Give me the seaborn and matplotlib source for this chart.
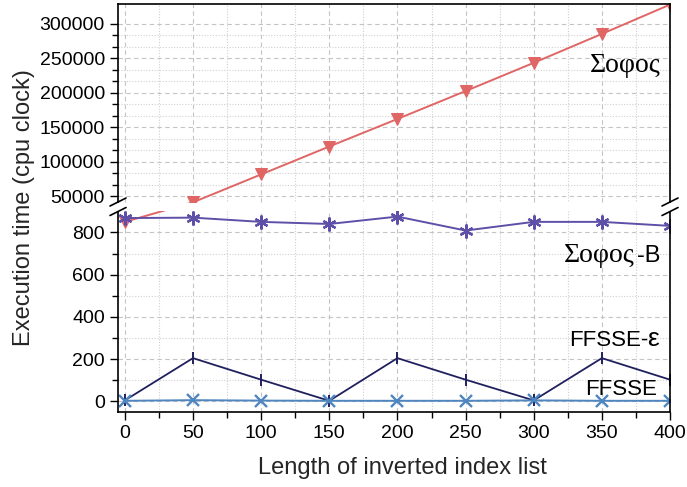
import numpy as np
import matplotlib
matplotlib.use("Agg")
import matplotlib.pyplot as plt
import seaborn as sns

# Data
x_len = [0, 50, 100, 150, 200, 250, 300, 350, 400]
sofos = [850, 41000, 81500, 122000, 162000, 202500, 243500, 285500, 328000]
sofos_b = [868, 870, 850, 840, 875, 809, 850, 850, 831]
ffsse_eps = [5, 205, 103, 3, 205, 103, 5, 205, 103]
ffsse = [3, 6, 4, 3, 3, 3, 5, 3, 3]

major_y = [0, 200, 400, 600, 800, 50000, 100000, 150000, 200000, 250000, 300000]
minor_y = [100, 300, 500, 700] + [50000 + k * 50000 / 3 for k in range(16) if k % 3]

sns.set_theme(style="ticks")
plt.rcParams["font.family"] = ["Liberation Sans", "DejaVu Sans"]
plt.rcParams["font.serif"] = ["Liberation Serif", "DejaVu Serif"]

# broken y axis: piecewise linear scale (units = pixels from bottom of axes)
LO, HI = 900, 40000
A = 0.21125          # px per unit, lower part
B = 0.0006888        # px per unit, upper part
P_LO = (LO + 50) * A
P_HI = 209.0
G = (P_HI - P_LO) / (HI - LO)


def fwd(v):
    v = np.asarray(v, dtype=float)
    return np.where(v <= LO, (v + 50) * A,
                    np.where(v >= HI, P_HI + (v - HI) * B, P_LO + (v - LO) * G))


def inv(p):
    p = np.asarray(p, dtype=float)
    return np.where(p <= P_LO, p / A - 50,
                    np.where(p >= P_HI, HI + (p - P_HI) / B, LO + (p - P_LO) / G))


fig = plt.figure(figsize=(6.87, 4.87), dpi=100)
ax = fig.add_axes([0.1718, 0.154, 0.8035, 0.8378])
ax.set_yscale("function", functions=(fwd, inv))

sns.lineplot(x=x_len, y=sofos, ax=ax, color="#e06666", marker="v", markersize=9,
             markeredgecolor="#e06666", lw=1.4)
sns.lineplot(x=x_len, y=sofos_b, ax=ax, color="#5e4fa8", marker=(6, 2, 0), markersize=10,
             markeredgecolor="#5e4fa8", markeredgewidth=1.6, lw=1.4)
sns.lineplot(x=x_len, y=ffsse_eps, ax=ax, color="#20205e", marker="|", markersize=8,
             markeredgecolor="#20205e", markeredgewidth=1.4, lw=1.3)
sns.lineplot(x=x_len, y=ffsse, ax=ax, color="#4f86c0", marker="x", markersize=9,
             markeredgecolor="#4f86c0", markeredgewidth=1.7, lw=1.4)

ax.set_xlim(-5, 400)
ax.set_ylim(-50, 328900)
ax.set_xticks(range(0, 401, 50))
ax.set_xticks(range(25, 400, 50), minor=True)
ax.set_yticks(major_y, labels=[str(v) for v in major_y])
ax.set_yticks(minor_y, minor=True)

ax.grid(True, which="major", ls=(0, (4, 3)), color="#c4c4c4", lw=0.8)
ax.grid(True, which="minor", ls=(0, (1, 1.5)), color="#d0d0d0", lw=0.8)
ax.set_axisbelow(True)

for s in ax.spines.values():
    s.set_color("black")
    s.set_linewidth(1.2)
ax.tick_params(which="both", direction="out", colors="black", width=1,
               labelsize=14, top=False, right=False)
ax.tick_params(which="major", length=6)
ax.tick_params(which="minor", length=4)

ax.set_xlabel("Length of inverted index list", fontsize=17)
ax.set_ylabel("Execution time (cpu clock)", fontsize=17)
ax.xaxis.set_label_coords(0.515, -0.11)
ax.yaxis.set_label_coords(-0.15, 0.5)

# gap of the broken axis, with the break marks
ax.axhspan(LO, HI, xmin=-0.03, xmax=1.03, facecolor="white", edgecolor="none",
           zorder=4, clip_on=False)
dx, dy = 8 / 552, 4 / 408
for xc in (0, 1):
    for yc in (0.5147, 0.4914):
        ax.plot([xc - dx, xc + dx], [yc - dy, yc + dy], transform=ax.transAxes,
                color="black", lw=1.2, clip_on=False, zorder=5)

ax.text(0.9824, 0.834, "Σοφος", transform=ax.transAxes, ha="right", va="baseline",
        fontsize=20, family="serif", color="black")
ax.text(0.936, 0.368, "Σοφος", transform=ax.transAxes, ha="right", va="baseline",
        fontsize=20, family="serif", color="black")
ax.text(0.982, 0.368, "-B", transform=ax.transAxes, ha="right", va="baseline",
        fontsize=17, color="black")
ax.text(0.960, 0.162, "FFSSE-", transform=ax.transAxes, ha="right", va="baseline",
        fontsize=16, color="black")
ax.text(0.958, 0.162, "ε", transform=ax.transAxes, ha="left", va="baseline",
        fontsize=19, color="black")
ax.text(0.9765, 0.0417, "FFSSE", transform=ax.transAxes, ha="right", va="baseline",
        fontsize=16, color="black")

fig.savefig("out.png", dpi=100)
